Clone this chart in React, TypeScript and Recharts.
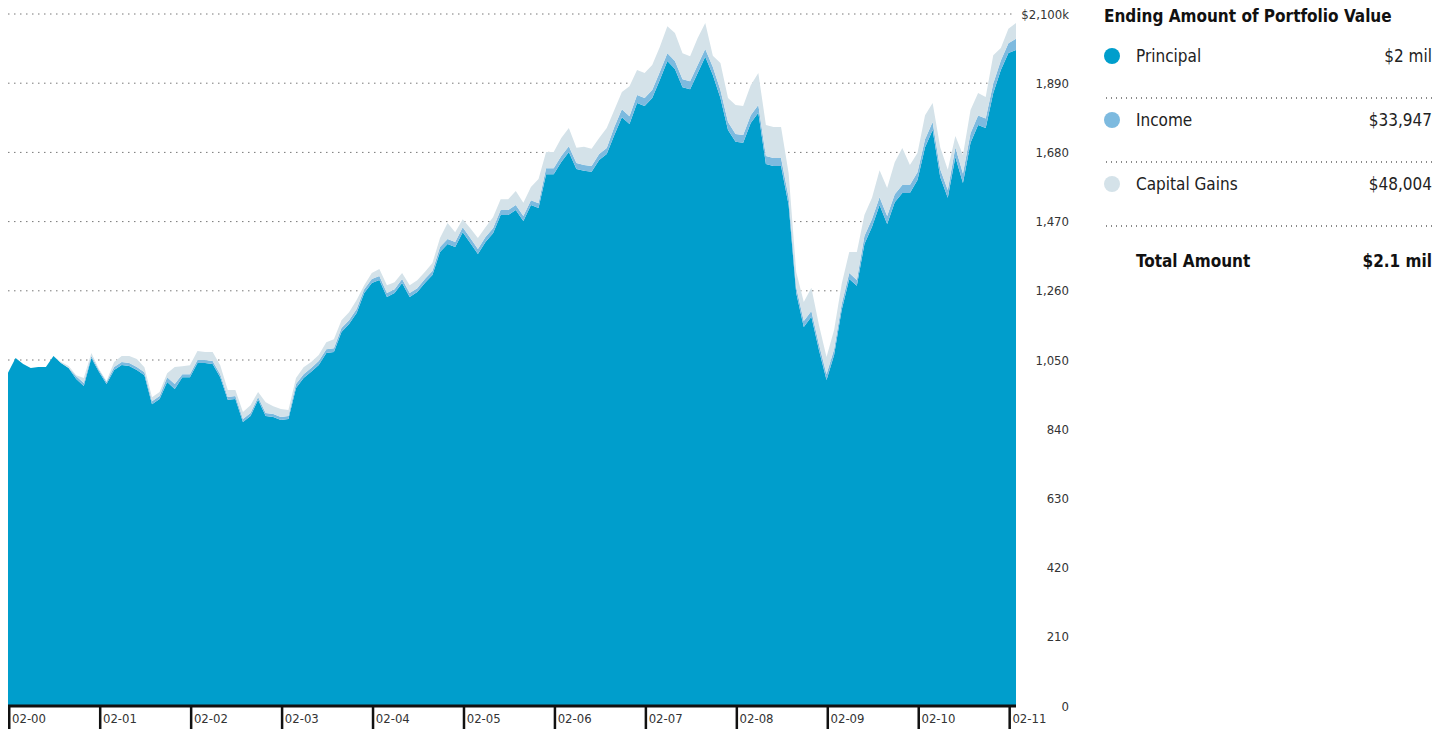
import * as React from "react";
import { Area, AreaChart, CartesianGrid, XAxis, YAxis } from "recharts";

// monthly points, Feb 2000 .. Mar 2011 (values in $k)
const principal = [
  1011, 1056, 1038, 1026, 1029, 1029, 1062, 1041, 1026, 992, 971, 1056, 1014, 977, 1020, 1035, 1032, 1020, 1004, 916,
  932, 983, 962, 998, 998, 1041, 1041, 1038, 998, 929, 932, 862, 880, 929, 880, 877, 868, 871, 965, 995,
  1014, 1035, 1071, 1074, 1135, 1159, 1193, 1253, 1284, 1293, 1241, 1253, 1284, 1241, 1256, 1284, 1308, 1378, 1402, 1393,
  1438, 1405, 1372, 1408, 1435, 1490, 1490, 1505, 1472, 1520, 1511, 1614, 1614, 1651, 1681, 1630, 1624, 1621, 1657, 1675,
  1733, 1787, 1766, 1830, 1821, 1845, 1900, 1957, 1933, 1878, 1872, 1921, 1970, 1915, 1845, 1748, 1712, 1709, 1769, 1800,
  1645, 1639, 1639, 1520, 1253, 1150, 1181, 1080, 989, 1065, 1202, 1296, 1275, 1402, 1454, 1520, 1463, 1529, 1557, 1557,
  1596, 1696, 1748, 1605, 1542, 1666, 1587, 1709, 1763, 1754, 1860, 1930, 1982, 1991,
];

const income = [
  0, 0, 0, 0, 0, 0, 0, 0, 0, 9, 9, 6, 6, 6, 9, 9, 9, 9, 9, 9,
  9, 15, 15, 9, 9, 9, 9, 9, 9, 9, 9, 9, 9, 9, 9, 9, 9, 9, 12, 12,
  12, 12, 12, 12, 12, 12, 12, 12, 12, 12, 12, 12, 12, 12, 12, 12, 12, 15, 15, 15,
  15, 15, 15, 15, 15, 15, 15, 15, 15, 15, 15, 18, 18, 18, 18, 18, 18, 18, 18, 18,
  24, 24, 24, 24, 24, 24, 24, 24, 24, 24, 24, 24, 24, 24, 24, 24, 24, 24, 24, 24,
  24, 24, 24, 24, 18, 18, 18, 18, 18, 18, 18, 18, 18, 24, 24, 24, 24, 24, 24, 24,
  24, 24, 24, 24, 24, 29, 29, 29, 29, 29, 29, 29, 29, 34,
];

const capitalGains = [
  0, 0, 0, 0, 0, 0, 0, 3, 6, 3, 15, 9, 3, 3, 15, 18, 21, 24, 15, 12,
  12, 12, 52, 24, 27, 27, 24, 27, 27, 21, 18, 21, 24, 15, 33, 24, 24, 18, 18, 21,
  18, 18, 21, 27, 24, 24, 27, 12, 18, 21, 24, 21, 18, 24, 24, 21, 24, 27, 49, 30,
  24, 30, 33, 30, 33, 33, 33, 43, 40, 40, 73, 49, 49, 55, 55, 46, 55, 52, 49, 61,
  52, 52, 91, 76, 76, 76, 76, 82, 85, 79, 76, 82, 79, 34, 82, 73, 88, 88, 91, 97,
  94, 94, 94, 73, 46, 58, 70, 58, 52, 58, 61, 64, 85, 64, 64, 82, 85, 97, 112, 61,
  58, 73, 58, 67, 61, 35, 56, 71, 68, 65, 86, 38, 44, 48,
];

const xTicks = [0, 12, 24, 36, 48, 60, 72, 84, 96, 108, 120, 132];
const xLabels = ["02-00", "02-01", "02-02", "02-03", "02-04", "02-05", "02-06", "02-07", "02-08", "02-09", "02-10", "02-11"];
const yTicks = [0, 210, 420, 630, 840, 1050, 1260, 1470, 1680, 1890, 2100];

const legendRows = [
  { name: "Principal", value: "$2 mil", color: "#009ECC" },
  { name: "Income", value: "$33,947", color: "#7DBADF" },
  { name: "Capital Gains", value: "$48,004", color: "#D4E2E9" },
];

const data = principal.map((p, i) => ({ m: i, principal: p, income: income[i], gains: capitalGains[i] }));

const font = "'Liberation Sans Narrow', 'DejaVu Sans Condensed', 'Arial Narrow', sans-serif";

function XTick(props: any) {
  const { x, y, payload } = props;
  const label = xLabels[xTicks.indexOf(payload.value)];
  return (
    <g>
      <rect x={x} y={y} width={2.5} height={23} fill="#111" />
      <text x={x + 4} y={y + 17} fontSize={13} fontFamily={font} fill="#333">
        {label}
      </text>
    </g>
  );
}

function YTick(props: any) {
  const { x, y, payload } = props;
  const v = payload.value;
  const label = v === 2100 ? "$2,100k" : v.toLocaleString("en-US");
  return (
    <text x={x + 53} y={y + 4.5} textAnchor="end" fontSize={13} fontFamily={font} fill="#333">
      {label}
    </text>
  );
}

const dots: React.CSSProperties = {
  position: "absolute",
  left: 0,
  width: 328,
  height: 2,
  backgroundImage: "radial-gradient(circle, #8a8a8a 0.8px, transparent 1px)",
  backgroundSize: "5px 2px",
  backgroundRepeat: "repeat-x",
};

export default function App() {
  return (
    <div style={{ position: "relative", width: 1430, height: 721 }}>
      <AreaChart width={1090} height={721} data={data} margin={{ top: 6, right: 0, left: 0, bottom: 0 }}>
        <CartesianGrid vertical={false} stroke="#777" strokeDasharray="1.5 4.5" />
        <XAxis
          dataKey="m"
          type="number"
          domain={[0, 133]}
          ticks={xTicks}
          interval={0}
          height={23}
          tickSize={0}
          tickMargin={0}
          tickLine={false}
          axisLine={{ stroke: "#111", strokeWidth: 3 }}
          tick={<XTick />}
        />
        <YAxis
          orientation="right"
          domain={[0, 2100]}
          ticks={yTicks}
          interval={0}
          width={82}
          tickSize={0}
          tickMargin={0}
          tickLine={false}
          axisLine={false}
          tick={<YTick />}
        />
        <Area type="linear" dataKey="principal" stackId="a" stroke="none" fill="#009ECC" fillOpacity={1} isAnimationActive={false} />
        <Area type="linear" dataKey="income" stackId="a" stroke="none" fill="#7DBADF" fillOpacity={1} isAnimationActive={false} />
        <Area type="linear" dataKey="gains" stackId="a" stroke="none" fill="#D4E2E9" fillOpacity={1} isAnimationActive={false} />
      </AreaChart>
      <div style={{ position: "absolute", left: 1096, top: 0, width: 328, height: 280, fontFamily: font, color: "#222" }}>
        <div
          style={{
            position: "absolute",
            top: -2,
            left: 0,
            fontWeight: 700,
            fontSize: 17,
            color: "#111",
            lineHeight: "20px",
            whiteSpace: "nowrap",
          }}
        >
          Ending Amount of Portfolio Value
        </div>
        {legendRows.map((r, i) => (
          <React.Fragment key={r.name}>
            <span
              style={{
                position: "absolute",
                left: 0,
                top: 40 + i * 64,
                width: 16,
                height: 16,
                borderRadius: 8,
                background: r.color,
              }}
            />
            <span style={{ position: "absolute", left: 32, top: 38 + i * 64, fontSize: 17, lineHeight: "20px" }}>
              {r.name}
            </span>
            <span style={{ position: "absolute", right: 0, top: 38 + i * 64, fontSize: 17, lineHeight: "20px" }}>
              {r.value}
            </span>
            <div style={{ ...dots, top: 89 + i * 64 }} />
          </React.Fragment>
        ))}
        <span
          style={{ position: "absolute", left: 32, top: 243, fontSize: 17, fontWeight: 700, lineHeight: "20px", color: "#111" }}
        >
          Total Amount
        </span>
        <span
          style={{ position: "absolute", right: 0, top: 243, fontSize: 17, fontWeight: 700, lineHeight: "20px", color: "#111" }}
        >
          $2.1 mil
        </span>
      </div>
    </div>
  );
}
